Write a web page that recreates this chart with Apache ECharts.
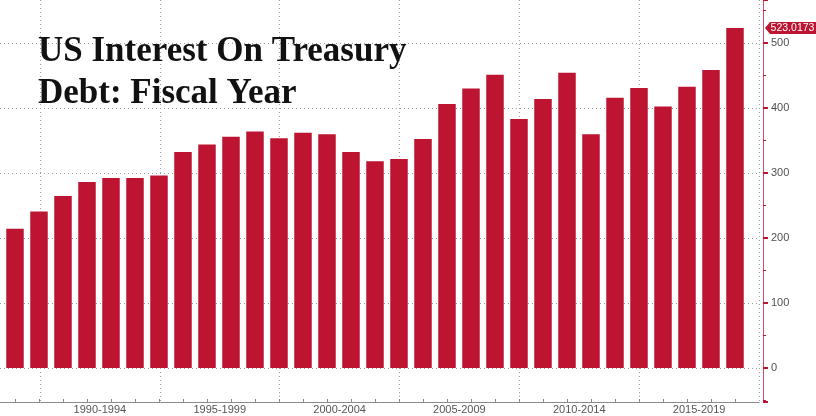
<!DOCTYPE html>
<html>
<head>
<meta charset="utf-8">
<script src="https://cdn.jsdelivr.net/npm/echarts@6/dist/echarts.min.js"></script>
<style>
  html, body { margin: 0; padding: 0; background: #ffffff; }
  #chart { width: 816px; height: 416px; }
</style>
</head>
<body>
<div id="chart"></div>
<script>
// fiscal years and interest paid on treasury debt (USD bn)
var years = [1988, 1989, 1990, 1991, 1992, 1993, 1994, 1995, 1996, 1997,
             1998, 1999, 2000, 2001, 2002, 2003, 2004, 2005, 2006, 2007,
             2008, 2009, 2010, 2011, 2012, 2013, 2014, 2015, 2016, 2017, 2018];
var interest = [214.1, 240.9, 264.8, 286.0, 292.3, 292.5, 296.3, 332.4, 344.0, 355.8,
                363.8, 353.5, 362.0, 359.5, 332.5, 318.1, 321.6, 352.3, 406.0, 430.0,
                451.2, 383.1, 413.9, 454.4, 359.8, 415.7, 430.8, 402.4, 432.6, 458.5, 523.0173];
// bottom axis period labels
var periods = ['1990-1994', '1995-1999', '2000-2004', '2005-2009', '2010-2014', '2015-2019'];

var red = '#bd1531';
var grey = '#8a8a8a';

var barData = [];
for (var i = 0; i < years.length; i++) {
    barData.push([years[i], interest[i]]);
}
var last = barData[barData.length - 1];

var chart = echarts.init(document.getElementById('chart'));

var option = {
    animation: false,
    title: {
        text: 'US Interest On Treasury\nDebt: Fiscal Year',
        left: 38,
        top: 31,
        padding: 0,
        textStyle: {
            fontFamily: 'Liberation Serif',
            fontWeight: 'bold',
            fontSize: 35,
            lineHeight: 42,
            color: '#111111'
        }
    },
    grid: [
        // bars
        { left: 0, right: 57, top: 0, bottom: 14 },
        // period labels + vertical dotted lines
        { left: 40, right: 57, top: 0, bottom: 14 }
    ],
    xAxis: [
        {
            type: 'value',
            gridIndex: 0,
            // chart is cropped a little before the first bar
            min: 1987.375,
            max: 2019,
            axisLine: { onZero: false, lineStyle: { color: grey, width: 1 } },
            axisTick: { inside: true, length: 3, customValues: years, lineStyle: { color: grey } },
            axisLabel: { show: false },
            splitLine: { show: false }
        },
        {
            type: 'category',
            gridIndex: 1,
            data: periods,
            boundaryGap: true,
            axisLine: { show: false },
            axisTick: { length: 14, lineStyle: { color: grey } },
            axisLabel: {
                color: '#555555',
                fontFamily: 'Liberation Sans',
                fontSize: 11,
                margin: 2
            },
            splitLine: {
                show: true,
                lineStyle: { color: '#a0a0a0', type: [1, 3], width: 1 }
            }
        }
    ],
    yAxis: [
        {
            type: 'value',
            gridIndex: 0,
            position: 'right',
            offset: 4,
            min: -52.3,
            max: 566.2,
            minInterval: 100,
            maxInterval: 100,
            axisLine: { show: true, lineStyle: { color: '#d0506a', width: 1 } },
            axisTick: { show: true, length: 5, lineStyle: { color: red, width: 2 } },
            minorTick: { show: true, splitNumber: 2, length: 3, lineStyle: { color: red, width: 1 } },
            axisLabel: {
                color: '#505050',
                fontFamily: 'Liberation Sans',
                fontSize: 11,
                margin: 8,
                showMinLabel: false,
                showMaxLabel: false
            },
            splitLine: {
                show: true,
                showMinLine: false,
                showMaxLine: false,
                lineStyle: { color: '#a0a0a0', type: [1, 3], width: 1 }
            }
        },
        {
            type: 'value',
            gridIndex: 1,
            show: false,
            min: 0,
            max: 1
        }
    ],
    series: [
        {
            type: 'bar',
            xAxisIndex: 0,
            yAxisIndex: 0,
            data: barData,
            barWidth: 17.5,
            clip: false,
            itemStyle: { color: red },
            // last value tag on the axis
            markPoint: {
                silent: true,
                data: [{
                    coord: [2019, last[1]],
                    value: last[1],
                    symbol: 'path://M0,6L5,0L50,0L50,12L5,12Z',
                    symbolSize: [51, 12],
                    symbolKeepAspect: false,
                    symbolOffset: [31.5, 0],
                    itemStyle: { color: red },
                    label: {
                        show: true,
                        position: 'inside',
                        offset: [2, 0],
                        color: '#ffffff',
                        fontFamily: 'Liberation Sans',
                        fontSize: 10.5,
                        formatter: function (p) { return String(p.value); }
                    }
                }]
            }
        }
    ]
};

chart.setOption(option);
</script>
</body>
</html>
